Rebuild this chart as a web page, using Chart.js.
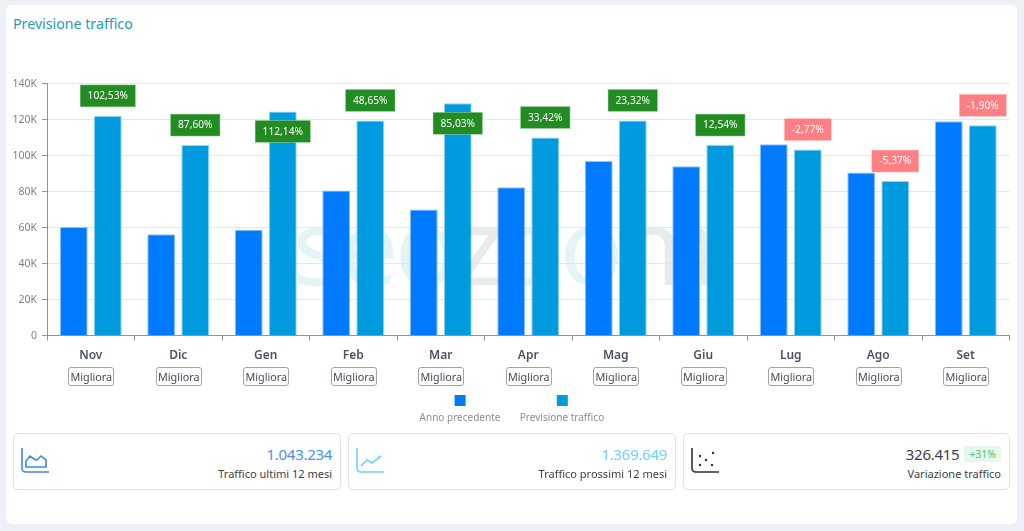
<!DOCTYPE html>
<html lang="it">
<head>
<meta charset="utf-8">
<title>Previsione traffico</title>
<script src="https://cdn.jsdelivr.net/npm/chart.js@4"></script>
<style>
  html, body { margin: 0; padding: 0; }
  body { width: 1024px; height: 531px; background: #eef0f7; overflow: hidden; font-family: 'Noto Sans', sans-serif; position: relative; }
  .panel { position: absolute; left: 6px; top: 5px; width: 1011px; height: 519px; background: #fff; border-radius: 6px; }
  h1 { position: absolute; left: 13px; top: 14px; margin: 0; font-size: 14.2px; line-height: 20px; font-weight: 400; color: #1f9db5; }
  .mark { position: absolute; left: 292px; top: 184px; font: 400 106px/120px 'Noto Sans', sans-serif; letter-spacing: -4px; white-space: nowrap; }
  .mark .a { color: #e3f3f6; }
  .mark .b { color: #e9eaec; }
  canvas { position: absolute; left: 0; top: 0; }
  .fix { position: absolute; box-sizing: border-box; height: 19px; width: 46px; border: 1px solid #9ea4b0; border-radius: 3px; background: #fff; color: #454b57; font-size: 10.8px; line-height: 17px; text-align: center; }
  .lg { position: absolute; top: 395px; transform: translateX(-50%); text-align: center; color: #8a8d93; font-size: 10px; line-height: 14px; white-space: nowrap; }
  .lg i { display: block; width: 11px; height: 11px; margin: 0 auto 4px; }
  .card { position: absolute; top: 433px; height: 57px; box-sizing: border-box; border: 1px solid #dfe1e5; border-radius: 5px; background: #fff; }
  .card svg { position: absolute; left: 6px; top: 13px; }
  .val { position: absolute; right: 8px; top: 9px; font-size: 15px; letter-spacing: -0.3px; line-height: 22px; white-space: nowrap; }
  .lab { position: absolute; right: 8px; top: 32px; font-size: 11px; line-height: 16px; color: #3b3f46; white-space: nowrap; }
  .up { display: inline-block; margin-left: 5px; padding: 0 5px; height: 16px; background: #e6f6e9; color: #4fc77a; font-size: 10.5px; letter-spacing: 0; line-height: 16px; border-radius: 2px; vertical-align: 2px; }
</style>
</head>
<body>
<div class="panel"></div>
<h1>Previsione traffico</h1>
<div class="mark"><span class="a">seo</span><span class="b">z</span><span class="a">oo</span><span class="b">m</span></div>
<canvas id="chart" width="1024" height="400"></canvas>
<div id="extras"></div>

<div class="card" style="left:13px;width:328px">
  <svg width="30" height="28" viewBox="0 0 30 28" fill="none" stroke="#3f88e8" stroke-width="1.6"><path d="M2 1v20q0 4 4 4h23"/><path d="M6 20v-6l4-5 4 3 3 1 4-4 5 4v7z"/></svg>
  <div class="val" id="v0" style="color:#4a92ee"></div><div class="lab" id="l0"></div>
</div>
<div class="card" style="left:348px;width:328px">
  <svg width="30" height="28" viewBox="0 0 30 28" fill="none" stroke="#6ed2fb" stroke-width="1.6"><path d="M2 1v20q0 4 4 4h23"/><path d="M6 19l6-6 5 3 9-7"/></svg>
  <div class="val" id="v1" style="color:#6ed2fb"></div><div class="lab" id="l1"></div>
</div>
<div class="card" style="left:683px;width:327px">
  <svg width="30" height="28" viewBox="0 0 30 28" fill="none" stroke="#2c3038" stroke-width="1.6"><path d="M2 1v20q0 4 4 4h23"/><g fill="#2c3038" stroke="none"><circle cx="10" cy="9" r="1.2"/><circle cx="10" cy="18" r="1.2"/><circle cx="16" cy="13" r="1.2"/><circle cx="23" cy="6" r="1.2"/><circle cx="22" cy="18" r="1.2"/></g></svg>
  <div class="val" id="v2" style="color:#3b3f46"></div><div class="lab" id="l2"></div>
</div>

<script>
const months = ['Nov','Dic','Gen','Feb','Mar','Apr','Mag','Giu','Lug','Ago','Set'];
const prevYear = [60300,56200,58700,80500,70000,82300,97000,94000,106300,90500,119000];
const forecast = [122000,105800,124500,119500,129000,110000,119500,105800,103300,85800,116800];
const deltas = ['102,53%','87,60%','112,14%','48,65%','85,03%','33,42%','23,32%','12,54%','-2,77%','-5,37%','-1,90%'];
const seriesNames = ['Anno precedente','Previsione traffico'];
const cardValues = ['1.043.234','1.369.649','326.415'];
const cardLabels = ['Traffico ultimi 12 mesi','Traffico prossimi 12 mesi','Variazione traffico'];
const cardBadge = '+31%';

// percentage boxes above the forecast bars, pushed down when the bar gets too tall
const deltaLabels = {
  id: 'deltaLabels',
  afterDatasetsDraw(chart) {
    const { ctx } = chart;
    const bars = chart.getDatasetMeta(1).data;
    ctx.save();
    ctx.font = '10.2px "Noto Sans"';
    ctx.textAlign = 'center';
    ctx.textBaseline = 'middle';
    bars.forEach((bar, i) => {
      const txt = deltas[i];
      const w = ctx.measureText(txt).width + 15;
      const h = 22;
      const top = forecast[i] > 123000 ? bar.y + 9 : bar.y - 9 - h;
      const bad = txt.startsWith('-');
      ctx.fillStyle = bad ? '#ff7f84' : '#228b22';
      ctx.fillRect(bar.x - w / 2, top, w, h);
      ctx.strokeStyle = bad ? '#ffc4c6' : '#a6d8a6';
      ctx.lineWidth = 0.5;
      ctx.strokeRect(bar.x - w / 2, top, w, h);
      ctx.fillStyle = '#fff';
      ctx.fillText(txt, bar.x, top + h / 2 + 0.5);
    });
    ctx.restore();
  }
};

const chart = new Chart(document.getElementById('chart'), {
  type: 'bar',
  data: {
    labels: months,
    datasets: [
      { label: seriesNames[0], data: prevYear, backgroundColor: '#007bff', borderColor: '#8cc4ff', borderWidth: { top: 1, left: 1, right: 1, bottom: 0 } },
      { label: seriesNames[1], data: forecast, backgroundColor: '#009bde', borderColor: '#8fd6f4', borderWidth: { top: 1, left: 1, right: 1, bottom: 0 } }
    ]
  },
  options: {
    responsive: false,
    animation: false,
    layout: { padding: { top: 83.5, right: 14.5 } },
    categoryPercentage: 0.778,
    barPercentage: 0.82,
    plugins: { legend: { display: false }, tooltip: { enabled: false } },
    scales: {
      x: {
        afterFit: s => { s.height = 64.5; },
        grid: { drawOnChartArea: false, color: '#8f939a', tickLength: 5 },
        border: { color: '#8f939a' },
        ticks: { color: '#4b5260', padding: 8, font: { family: 'Noto Sans', size: 12, weight: '600' } }
      },
      y: {
        min: 0,
        max: 140000,
        afterFit: s => { s.width = 47; },
        grid: { color: '#e6e6e6', tickColor: '#8f939a', tickLength: 5 },
        border: { color: '#8f939a' },
        ticks: {
          stepSize: 20000,
          padding: 5,
          labelOffset: 1,
          color: '#7b7f87',
          font: { family: 'Noto Sans', size: 10.5 },
          callback: v => v === 0 ? '0' : (v / 1000) + 'K'
        }
      }
    }
  },
  plugins: [deltaLabels]
});

// buttons under the month names and the stacked legend
const extras = document.getElementById('extras');
months.forEach((m, i) => {
  const b = document.createElement('div');
  b.className = 'fix';
  b.textContent = 'Migliora';
  b.style.left = (chart.scales.x.getPixelForTick(i) - 22.5) + 'px';
  b.style.top = '367px';
  extras.appendChild(b);
});
chart.data.datasets.forEach((ds, i) => {
  const l = document.createElement('div');
  l.className = 'lg';
  l.style.left = (i === 0 ? 460 : 562) + 'px';
  l.innerHTML = '<i style="background:' + ds.backgroundColor + '"></i>' + ds.label;
  extras.appendChild(l);
});

cardValues.forEach((v, i) => {
  document.getElementById('v' + i).textContent = v;
  document.getElementById('l' + i).textContent = cardLabels[i];
});
document.getElementById('v2').insertAdjacentHTML('beforeend', '<span class="up">' + cardBadge + '</span>');
</script>
</body>
</html>
